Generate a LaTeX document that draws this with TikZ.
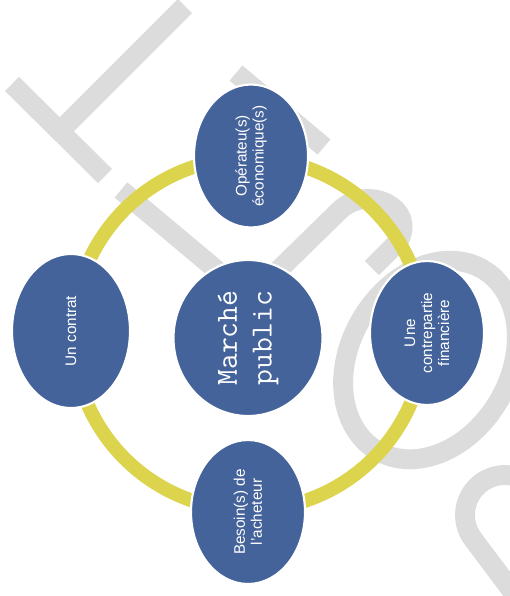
\documentclass[tikz,border=0pt]{standalone}
\usepackage{fontspec}
\setmainfont{Liberation Sans}
\usetikzlibrary{shapes.geometric}
\definecolor{NodeBlue}{HTML}{44639A}
\definecolor{RingYellow}{HTML}{DDD44E}
\definecolor{MarkGray}{HTML}{DCDCDC}

\tikzset{
  bubble/.style={ellipse, fill=NodeBlue, draw=white, line width=1.2pt,
    text=white, inner sep=0pt, rotate=90, align=center,
    font=\fontsize{8.7}{9.7}\selectfont},
  wmline/.style={draw=MarkGray, line width=11.3pt},
}

\begin{document}
\begin{tikzpicture}[x=0.02cm, y=-0.02cm]
  \useasboundingbox[fill=white] (0,0) rectangle (510,596);

  % watermark behind
  \begin{scope}
    \clip (0,0) rectangle (510,596);
    \draw[wmline] (185,6) -- (60,131);
    \draw[wmline] (12,84) -- (105,176);
    \draw[wmline] (236,73) -- (324,147);
    \draw[wmline] (121,190) -- (250,298);
    \draw[wmline] (250,298) -- (340,210) .. controls (368,184) and (418,208) .. (398,242) -- (372,268);
    \draw[wmline] plot[domain=0:360, samples=73]
      ({430+105*0.5*cos(\x)+80*0.866*sin(\x)}, {360-105*0.866*cos(\x)+80*0.5*sin(\x)}) -- cycle;
    \draw[wmline] (533,619) -- plot[domain=143.1:323.1, samples=30]
      ({505+40*cos(\x)}, {515+40*sin(\x)}) -- (597,571);
  \end{scope}

  % ring
  \coordinate (hub) at (249,334);
  \draw[RingYellow, line width=7.9pt] (hub) circle [radius=3.52cm];

  % Center
  \node[bubble, minimum width=3.12cm, minimum height=2.98cm,
    font=\ttfamily\fontsize{17.5}{19.8}\selectfont] (march) at (248,338) {Marché\\public};

  % around
  \node[bubble, minimum width=2.8cm, minimum height=2.28cm] (oper) at (251,156) {Opérateu(s)\\économique(s)};
  \node[bubble, minimum width=2.88cm, minimum height=2.28cm] (contre) at (427,333) {Une\\contrepartie\\financière};
  \node[bubble, minimum width=2.88cm, minimum height=2.28cm] (besoin) at (248,512) {Besoin(s) de\\l'acheteur};
  \node[bubble, minimum width=3.08cm, minimum height=2.36cm] (contrat) at (71,331) {Un contrat};
\end{tikzpicture}
\end{document}
